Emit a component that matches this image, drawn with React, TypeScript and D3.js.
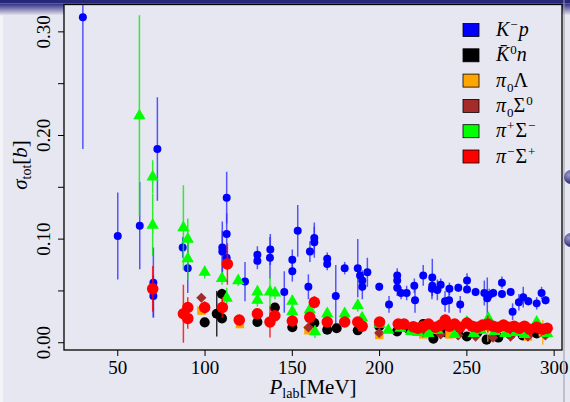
import * as d3 from "d3"

// [P_lab (MeV), sigma (b), error]
const kMinusP: [number, number, number][] = [
  [30, 0.314, 0.127], [50, 0.103, 0.042], [62.6, 0.113, 0.042], [70.4, 0.058, 0.034],
  [70.4, 0.045, 0.02], [72.7, 0.187, 0.05], [87.2, 0.092, 0.01], [90.1, 0.072, 0.024],
  [109.9, 0.092, 0.025], [109.9, 0.088, 0.02], [112.4, 0.14, 0.025], [112.4, 0.105, 0.02],
  [112.4, 0.082, 0.01], [122.9, 0.059, 0.019], [130, 0.085, 0.008], [130, 0.079, 0.008],
  [137.4, 0.09, 0.015], [137.2, 0.082, 0.02], [145.4, 0.049, 0.02], [150, 0.08, 0.01],
  [150, 0.069, 0.01], [153.1, 0.108, 0.025], [159.2, 0.054, 0.012], [160.1, 0.088, 0.01],
  [162.6, 0.101, 0.015], [162.6, 0.097, 0.015], [170, 0.081, 0.006], [170, 0.076, 0.006],
  [174.9, 0.045, 0.03], [180, 0.072, 0.006], [187.5, 0.072, 0.028], [188.8, 0.065, 0.01],
  [190.1, 0.06, 0.01], [190.1, 0.054, 0.012], [193, 0.068, 0.014], [199.8, 0.054, 0.004],
  [205.4, 0.037, 0.008], [210.1, 0.065, 0.007], [210.1, 0.06, 0.007], [210.1, 0.053, 0.008],
  [212.3, 0.048, 0.006], [215.5, 0.048, 0.007], [219.9, 0.055, 0.007], [220.3, 0.041, 0.012],
  [225, 0.065, 0.01], [230.2, 0.063, 0.018], [230.2, 0.055, 0.01], [230, 0.052, 0.01],
  [233.1, 0.051, 0.01], [235, 0.056, 0.006], [237.5, 0.04, 0.01], [239.8, 0.041, 0.012],
  [240, 0.052, 0.006], [245.1, 0.053, 0.004], [246.2, 0.037, 0.008], [250.1, 0.06, 0.007],
  [250.1, 0.0515, 0.004], [255, 0.049, 0.004], [260, 0.048, 0.012], [261.7, 0.043, 0.02],
  [262.8, 0.046, 0.006], [265.1, 0.048, 0.004], [270.1, 0.058, 0.006], [270.1, 0.047, 0.004],
  [275.1, 0.049, 0.004], [276.2, 0.03, 0.008], [279.8, 0.039, 0.008], [282.3, 0.044, 0.01],
  [285.2, 0.04, 0.004], [290, 0.038, 0.006], [292.8, 0.048, 0.006], [295.1, 0.041, 0.004],
]

const k0barN: [number, number, number][] = [
  [99.8, 0.0197, 0.003], [106.7, 0.028, 0.022], [109.7, 0.047, 0.005], [109.7, 0.0235, 0.004],
  [130, 0.02, 0.003], [140, 0.034, 0.004], [150, 0.015, 0.003], [162.6, 0.019, 0.003],
  [170, 0.0125, 0.003], [175.4, 0.014, 0.003], [187.5, 0.012, 0.003], [199.8, 0.016, 0.003],
  [210, 0.011, 0.003], [216, 0.014, 0.003], [225, 0.018, 0.003], [230.8, 0.004, 0.003],
  [238, 0.01, 0.003], [245, 0.009, 0.003], [250, 0.006, 0.003], [256, 0.01, 0.003],
  [261.3, 0.003, 0.003], [268, 0.005, 0.003], [275, 0.008, 0.003], [282, 0.007, 0.003],
  [290, 0.009, 0.003],
]

const pi0Lambda: [number, number, number][] = [
  [97.9, 0.031, 0.004], [120, 0.018, 0.003], [159.2, 0.012, 0.003], [199.8, 0.0075, 0.003],
  [225, 0.008, 0.003], [240, 0.008, 0.003], [262, 0.015, 0.014], [285, 0.006, 0.003],
  [293.5, 0.01, 0.012],
]

const pi0Sigma0: [number, number, number][] = [
  [97.9, 0.0434, 0.004], [120, 0.021, 0.003], [159.2, 0.0147, 0.003], [199.8, 0.0095, 0.003],
  [225, 0.01, 0.003], [235, 0.008, 0.003], [245, 0.007, 0.003], [255, 0.006, 0.003],
  [265, 0.005, 0.003], [275, 0.006, 0.003], [285, 0.006, 0.003], [295, 0.007, 0.003],
]

const piPlusSigmaMinus: [number, number, number][] = [
  [62.4, 0.219, 0.097], [70, 0.16, 0.016], [70, 0.1135, 0.03], [87.6, 0.111, 0.041],
  [90.1, 0.1, 0.02], [90.1, 0.081, 0.02], [99.8, 0.068, 0.006], [109.7, 0.062, 0.006],
  [112.4, 0.043, 0.01], [119, 0.06, 0.005], [130, 0.049, 0.006], [130, 0.041, 0.006],
  [137.2, 0.049, 0.015], [140.1, 0.048, 0.006], [150, 0.04, 0.006], [150, 0.03, 0.006],
  [160, 0.032, 0.005], [163, 0.0106, 0.006], [170, 0.028, 0.005], [180, 0.028, 0.004],
  [187.5, 0.036, 0.006], [190, 0.024, 0.004], [200, 0.018, 0.004], [205, 0.012, 0.003],
  [212, 0.014, 0.003], [218, 0.011, 0.003], [222, 0.01, 0.003], [228, 0.009, 0.003],
  [233, 0.012, 0.003], [237.5, 0.02, 0.004], [243, 0.008, 0.003], [250, 0.02, 0.004],
  [254, 0.009, 0.003], [258, 0.012, 0.003], [262.3, 0.0235, 0.005], [266, 0.011, 0.003],
  [272, 0.009, 0.003], [278, 0.01, 0.003], [283, 0.008, 0.003], [290, 0.02, 0.004],
  [296, 0.009, 0.003],
]

const piMinusSigmaPlus: [number, number, number][] = [
  [70, 0.052, 0.022], [87.6, 0.028, 0.028], [90.1, 0.034, 0.01], [90.1, 0.0235, 0.01],
  [99.8, 0.034, 0.006], [109.9, 0.034, 0.01], [112.8, 0.076, 0.02], [119.6, 0.022, 0.005],
  [130, 0.028, 0.004], [137.2, 0.02, 0.015], [140, 0.026, 0.004], [150, 0.021, 0.005],
  [160, 0.0245, 0.004], [162.6, 0.039, 0.006], [170, 0.02, 0.004], [180, 0.02, 0.004],
  [187.5, 0.02, 0.003], [190, 0.016, 0.003], [200, 0.02, 0.003], [210.7, 0.018, 0.003],
  [214, 0.018, 0.003], [219.3, 0.0155, 0.003], [222, 0.014, 0.003], [225, 0.016, 0.003],
  [228, 0.018, 0.003], [232, 0.015, 0.003], [235, 0.017, 0.003], [237.6, 0.022, 0.005],
  [240, 0.016, 0.003], [243, 0.018, 0.003], [246, 0.015, 0.003], [250, 0.019, 0.004],
  [253, 0.016, 0.003], [256, 0.015, 0.003], [259, 0.017, 0.003], [262, 0.018, 0.008],
  [265, 0.016, 0.003], [268, 0.015, 0.003], [271, 0.017, 0.003], [274, 0.015, 0.003],
  [277, 0.016, 0.003], [280, 0.014, 0.003], [283, 0.016, 0.003], [286, 0.013, 0.003],
  [290, 0.015, 0.003], [293.5, 0.013, 0.005], [296, 0.014, 0.003],
]

const xTicks = [50, 100, 150, 200, 250, 300]
const yTicks = [0, 0.1, 0.2, 0.3]
const yMinorTicks = [0.05, 0.15, 0.25]

const W = 570
const H = 402
const plot = { left: 64, right: 562, top: 4.5, bottom: 350 }
const bg = "#e7e7f1"
const serif = "'Liberation Serif', 'DejaVu Serif', serif"

const x = d3.scaleLinear().domain([19.2, 304.5]).range([plot.left, plot.right])
const y = d3.scaleLinear().domain([-0.007, 0.3264]).range([plot.bottom, plot.top])

const series = [
  { data: kMinusP, color: "#0000ff", bar: "#2f2fff", shape: "circle", size: 50 },
  { data: k0barN, color: "#000000", bar: "#000000", shape: "circle", size: 80 },
  { data: pi0Lambda, color: "#ffa500", bar: "#ffa500", shape: "square", size: 70 },
  { data: pi0Sigma0, color: "#a52a2a", bar: "#a52a2a", shape: "diamond", size: 52 },
  { data: piPlusSigmaMinus, color: "#00ff00", bar: "#00ee00", shape: "triangle", size: 66 },
  { data: piMinusSigmaPlus, color: "#ff0000", bar: "#ff0000", shape: "circle", size: 104 },
]

function markerPath(shape: string, size: number) {
  if (shape === "square" || shape === "diamond") return d3.symbol(d3.symbolSquare, size)()
  if (shape === "triangle") return d3.symbol(d3.symbolTriangle, size)()
  return d3.symbol(d3.symbolCircle, size)()
}

// small helpers for math-ish labels
const sup = (s: string) => <tspan dy={-7} dx={1} fontSize={13}>{s}</tspan>
const sub = (s: string) => <tspan dy={5} dx={1} fontSize={13}>{s}</tspan>

const legendItems = [
  { color: "#0000ff", label: <><tspan fontStyle="italic">K</tspan>{sup("−")}<tspan dy={7} dx={1} fontStyle="italic">p</tspan></> },
  { color: "#000000", label: <><tspan fontStyle="italic">{"K\u0304"}</tspan>{sup("0")}<tspan dy={7} fontStyle="italic">n</tspan></> },
  { color: "#ffa500", label: <><tspan fontStyle="italic">π</tspan>{sub("0")}<tspan dy={-5}>Λ</tspan></> },
  { color: "#a52a2a", label: <><tspan fontStyle="italic">π</tspan>{sub("0")}<tspan dy={-5}>Σ</tspan>{sup("0")}</> },
  { color: "#00ff00", label: <><tspan fontStyle="italic">π</tspan>{sup("+")}<tspan dy={7} dx={1}>Σ</tspan>{sup("−")}</> },
  { color: "#ff0000", label: <><tspan fontStyle="italic">π</tspan>{sup("−")}<tspan dy={7} dx={1}>Σ</tspan>{sup("+")}</> },
]

export default function App() {
  const fmt = d3.format(".2f")
  return (
    <svg width={W} height={H} style={{ position: "fixed", left: 0, top: 0, display: "block" }} fontFamily={serif}>
      <defs>
        <linearGradient id="topfade" x1="0" y1="0" x2="0" y2="1">
          <stop offset="0" stopColor="#2c2c82" />
          <stop offset="1" stopColor={bg} />
        </linearGradient>
        <radialGradient id="ball" cx="0.35" cy="0.35" r="0.7">
          <stop offset="0" stopColor="#9a9ad0" />
          <stop offset="1" stopColor="#1e1e66" />
        </radialGradient>
        <clipPath id="plotclip">
          <rect x={plot.left} y={plot.top} width={plot.right - plot.left} height={plot.bottom - plot.top} />
        </clipPath>
      </defs>

      <rect width={W} height={H} fill={bg} />
      <rect x={0} y={0} width={3} height={H} fill="#f4f4f8" />
      <rect x={0} y={0} width={W} height={3.5} fill="#26267a" />
      <rect x={0} y={3.5} width={W} height={12} fill="url(#topfade)" />

      <rect x={plot.left} y={plot.top} width={plot.right - plot.left} height={plot.bottom - plot.top} fill={bg} />

      <g clipPath="url(#plotclip)">
        {series.map((s, si) => (
          <g key={si}>
            {s.data.map((d, i) => (
              <line key={"e" + i} x1={x(d[0])} x2={x(d[0])} y1={y(d[1] - d[2])} y2={y(d[1] + d[2])}
                stroke={s.bar} strokeWidth={1.5} strokeOpacity={0.8} />
            ))}
            {s.data.map((d, i) => (
              <path key={"m" + i} d={markerPath(s.shape, s.size) ?? ""} fill={s.color}
                transform={`translate(${x(d[0])},${y(d[1])})${s.shape === "diamond" ? " rotate(45)" : ""}`} />
            ))}
          </g>
        ))}
      </g>

      <rect x={plot.left} y={plot.top} width={plot.right - plot.left} height={plot.bottom - plot.top}
        fill="none" stroke="#000" strokeWidth={1.3} />

      {xTicks.map((t) => (
        <g key={t} transform={`translate(${x(t)},${plot.bottom})`}>
          <line y2={6} stroke="#000" strokeWidth={1} />
          <text y={24} textAnchor="middle" fontSize={19}>{t}</text>
        </g>
      ))}
      {yTicks.map((t) => (
        <g key={t} transform={`translate(${plot.left},${y(t)})`}>
          <line x2={-6} stroke="#000" strokeWidth={1} />
          <text transform="translate(-14,0) rotate(-90)" textAnchor="middle" fontSize={19}>{fmt(t)}</text>
        </g>
      ))}
      {yMinorTicks.map((t) => (
        <line key={t} x1={plot.left} x2={plot.left - 6} y1={y(t)} y2={y(t)} stroke="#000" strokeWidth={1} />
      ))}

      <text x={313} y={394} textAnchor="middle" fontSize={21}>
        <tspan fontStyle="italic">P</tspan><tspan dy={4} fontSize={14}>lab</tspan><tspan dy={-4}>[MeV]</tspan>
      </text>
      <text transform="translate(27,165) rotate(-90)" textAnchor="middle" fontSize={21}>
        <tspan fontStyle="italic">σ</tspan><tspan dy={4} fontSize={14}>tot</tspan><tspan dy={-4}>[</tspan><tspan fontStyle="italic">b</tspan><tspan>]</tspan>
      </text>

      <g transform="translate(463,30)">
        {legendItems.map((it, i) => (
          <g key={i} transform={`translate(0,${i * 25.3})`}>
            <rect x={0} y={-6.5} width={16} height={13} fill={it.color} stroke="#000" strokeWidth={0.8} />
            <text x={33} y={6} fontSize={20}>{it.label}</text>
          </g>
        ))}
      </g>

      <line x1={564} x2={564} y1={0} y2={H} stroke="#9a9aa8" strokeWidth={1} />
      <circle cx={571} cy={177} r={7} fill="url(#ball)" />
      <circle cx={571} cy={240} r={7} fill="url(#ball)" />
    </svg>
  )
}
